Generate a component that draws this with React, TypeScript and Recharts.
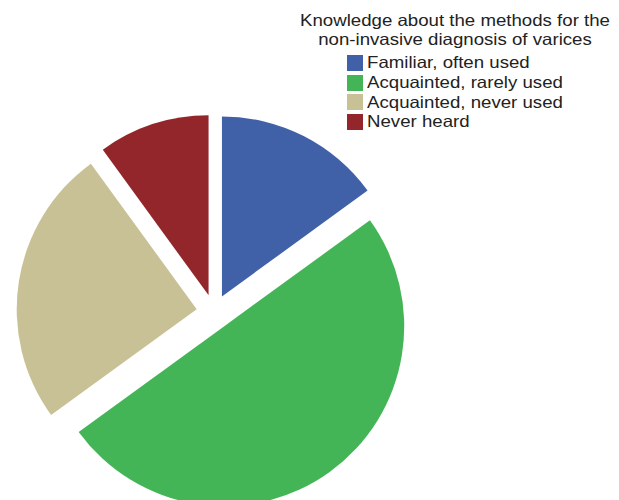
import { PieChart, Pie, Cell, Legend } from "recharts";

const categories = [
  "Familiar, often used",
  "Acquainted, rarely used",
  "Acquainted, never used",
  "Never heard",
];
const shares = [15, 50, 25, 10];
const colors = ["#4060A8", "#44B556", "#C9C196", "#93262A"];

const titleLines = [
  "Knowledge about the methods for the",
  "non-invasive diagnosis of varices",
];

const data = categories.map((name, i) => ({ name, value: shares[i] }));

const CX = 214;
const CY = 312;
const RADIUS = 180;
const EXPLODE = 17.5;
const total = shares.reduce((a, b) => a + b, 0);
const FONT = "'Liberation Sans', Arial, sans-serif";
const STRETCH = "scaleX(1.13)";

// each slice is pushed out along its own bisector
function sliceOffset(index: number) {
  const before = shares.slice(0, index).reduce((a, b) => a + b, 0);
  const mid = 90 - (360 * (before + shares[index] / 2)) / total;
  const rad = (mid * Math.PI) / 180;
  return { dx: EXPLODE * Math.cos(rad), dy: -EXPLODE * Math.sin(rad) };
}

function LegendBox() {
  return (
    <div style={{ fontFamily: FONT, fontSize: 16.5, color: "#222" }}>
      {categories.map((name, i) => (
        <div key={name} style={{ display: "flex", alignItems: "center", height: 19.7, whiteSpace: "nowrap" }}>
          <span
            style={{
              display: "inline-block",
              width: 16,
              height: 16,
              background: colors[i],
              marginRight: 4,
            }}
          />
          <span style={{ display: "inline-block", transform: STRETCH, transformOrigin: "left center" }}>
            {name}
          </span>
        </div>
      ))}
    </div>
  );
}

export default function App() {
  return (
    <div style={{ position: "absolute", left: 0, top: 0, width: 619, height: 500, background: "#fff", overflow: "hidden" }}>
      <div
        style={{
          position: "absolute",
          left: 455 - 160,
          top: 11,
          width: 320,
          textAlign: "center",
          fontFamily: FONT,
          fontSize: 16.5,
          lineHeight: "18.5px",
          color: "#222",
          whiteSpace: "nowrap",
          transform: STRETCH,
          transformOrigin: "center top",
        }}
      >
        {titleLines.map((t) => (
          <div key={t}>{t}</div>
        ))}
      </div>
      <PieChart width={619} height={500} margin={{ top: 0, right: 0, bottom: 0, left: 0 }}>
        {data.map((_, idx) => {
          const { dx, dy } = sliceOffset(idx);
          return (
            <Pie
              key={idx}
              data={data}
              dataKey="value"
              nameKey="name"
              cx={CX + dx}
              cy={CY + dy}
              outerRadius={RADIUS}
              startAngle={90}
              endAngle={-270}
              stroke="none"
              legendType="none"
              isAnimationActive={false}
            >
              {data.map((d, j) => (
                <Cell key={d.name} fill={j === idx ? colors[j] : "transparent"} stroke="none" />
              ))}
            </Pie>
          );
        })}
        <Legend
          content={() => <LegendBox />}
          wrapperStyle={{ position: "absolute", left: 347, top: 53, width: 270 }}
        />
      </PieChart>
    </div>
  );
}
